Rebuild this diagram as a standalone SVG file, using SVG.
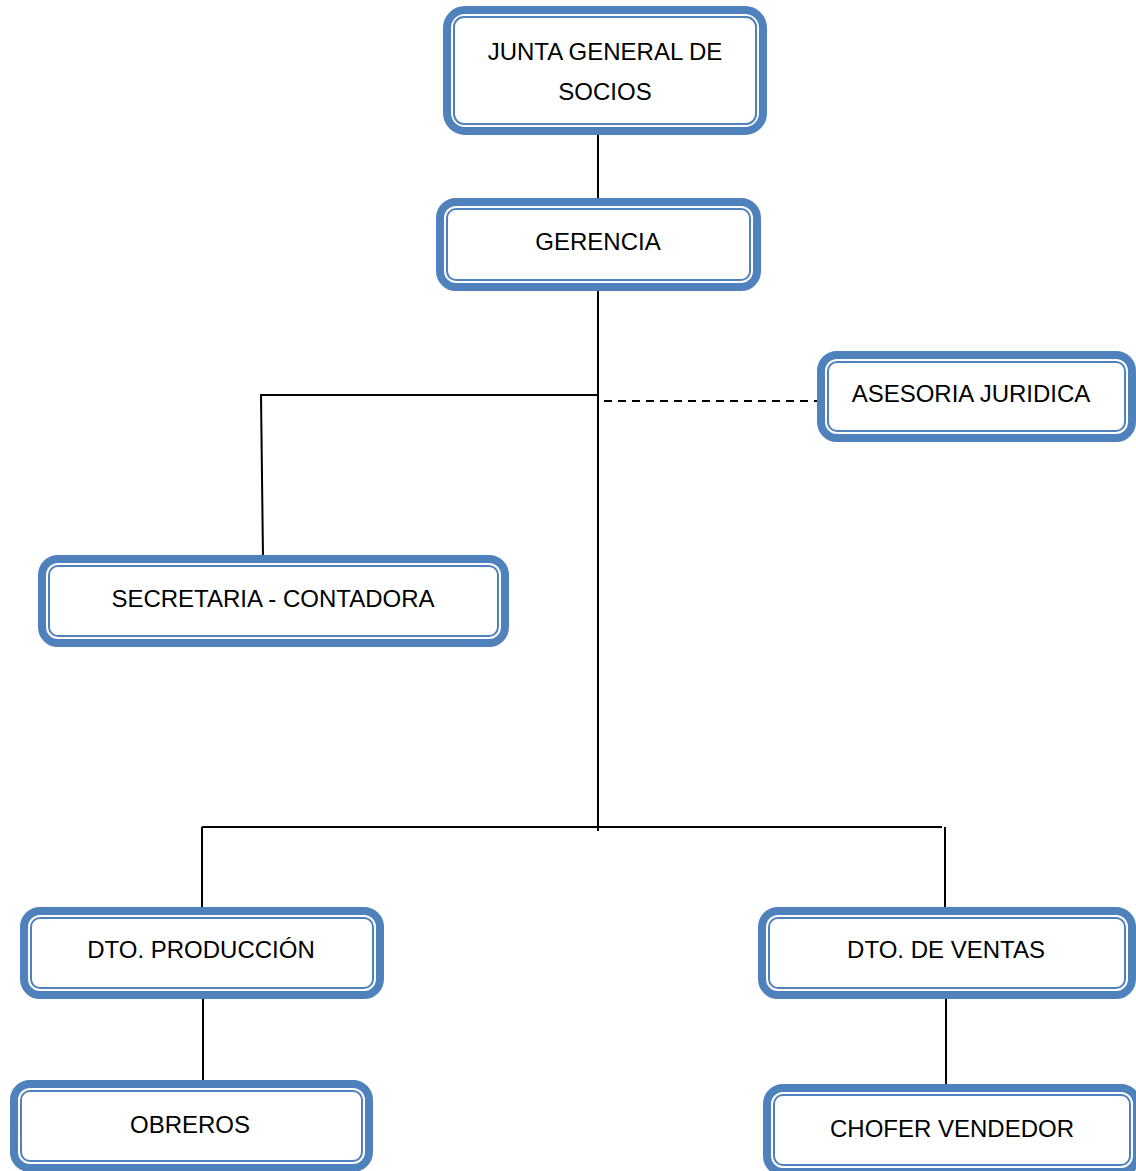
<svg xmlns="http://www.w3.org/2000/svg" width="1136" height="1171" viewBox="0 0 1136 1171">
<style>
.o{fill:#fff;stroke:#4F81BD;stroke-width:8}
.i{fill:none;stroke:#4F81BD;stroke-width:2}
.t{font-family:"Liberation Sans",Arial,sans-serif;font-size:24px;fill:#000;text-anchor:middle;dominant-baseline:central}
.c{stroke:#000;stroke-width:2;fill:none}
</style>
<rect width="1136" height="1171" fill="#fff"/>
<g id="connectors">
<line class="c" x1="598" y1="135" x2="598" y2="200"/>
<line class="c" x1="598" y1="291" x2="598" y2="831"/>
<line class="c" x1="260" y1="395" x2="598" y2="395"/>
<line class="c" x1="261" y1="395" x2="263" y2="558"/>
<line class="c" x1="604" y1="401" x2="820" y2="401" stroke-dasharray="8,6"/>
<line class="c" x1="202" y1="827" x2="942" y2="827"/>
<line class="c" x1="202" y1="827" x2="202" y2="912"/>
<line class="c" x1="945" y1="827" x2="945" y2="912"/>
<line class="c" x1="203" y1="999" x2="203" y2="1083"/>
<line class="c" x1="946" y1="999" x2="946" y2="1087"/>
</g>
<g id="junta">
<rect class="o" x="447" y="10" width="316" height="121" rx="18"/>
<rect class="i" x="454" y="17" width="302" height="107" rx="10"/>
<text class="t" x="605" y="51">JUNTA GENERAL DE</text>
<text class="t" x="605" y="91">SOCIOS</text>
</g>
<g id="gerencia">
<rect class="o" x="440" y="202" width="317" height="85" rx="16"/>
<rect class="i" x="447" y="209" width="303" height="71" rx="9"/>
<text class="t" x="598" y="241">GERENCIA</text>
</g>
<g id="asesoria">
<rect class="o" x="821" y="355" width="311" height="83" rx="16"/>
<rect class="i" x="828" y="362" width="297" height="69" rx="9"/>
<text class="t" x="971" y="393">ASESORIA JURIDICA</text>
</g>
<g id="secretaria">
<rect class="o" x="42" y="559" width="463" height="84" rx="16"/>
<rect class="i" x="49" y="566" width="449" height="70" rx="9"/>
<text class="t" x="273" y="598">SECRETARIA - CONTADORA</text>
</g>
<g id="produccion">
<rect class="o" x="24" y="911" width="356" height="84" rx="16"/>
<rect class="i" x="31" y="918" width="342" height="70" rx="9"/>
<text class="t" x="201" y="949">DTO. PRODUCCIÓN</text>
</g>
<g id="ventas">
<rect class="o" x="762" y="911" width="370" height="84" rx="16"/>
<rect class="i" x="769" y="918" width="356" height="70" rx="9"/>
<text class="t" x="946" y="949">DTO. DE VENTAS</text>
</g>
<g id="obreros">
<rect class="o" x="14" y="1084" width="355" height="84" rx="16"/>
<rect class="i" x="21" y="1091" width="341" height="70" rx="9"/>
<text class="t" x="190" y="1124">OBREROS</text>
</g>
<g id="chofer">
<rect class="o" x="767" y="1088" width="370" height="84" rx="16"/>
<rect class="i" x="774" y="1095" width="356" height="70" rx="9"/>
<text class="t" x="952" y="1128">CHOFER VENDEDOR</text>
</g>
</svg>
